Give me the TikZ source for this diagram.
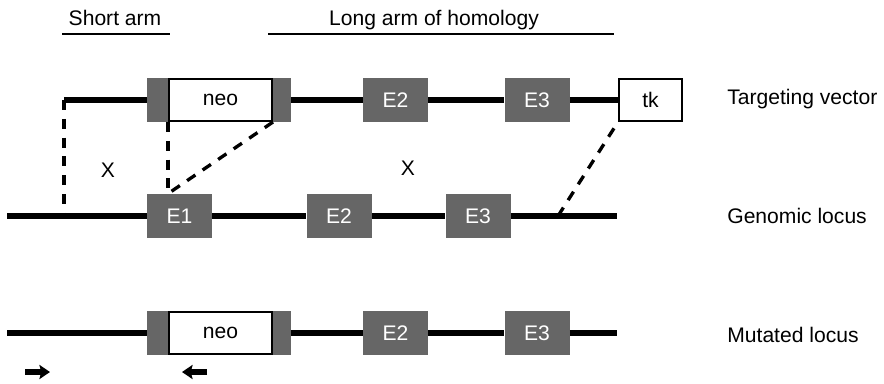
\documentclass[tikz,border=0pt]{standalone}
\usepackage{fontspec}
\setmainfont{Liberation Sans}
\usetikzlibrary{arrows.meta}
\definecolor{exongrey}{RGB}{102,102,102}
\begin{document}
\begin{tikzpicture}[x=0.02cm,y=-0.02cm,font=\fontsize{12}{14}\selectfont,
    dna/.style={line width=3.8pt},
    exon/.style={fill=exongrey,text=white,minimum width=1.3cm,minimum height=0.88cm,inner sep=0pt},
    flank/.style={fill=exongrey,minimum width=2.88cm,minimum height=0.88cm,inner sep=0pt},
    marker/.style={draw,line width=1.2pt,fill=white,minimum width=2.1cm-1.2pt,minimum height=0.88cm-1.2pt,inner sep=0pt},
    label/.style={anchor=base west,inner sep=0pt},
    link/.style={line width=1.9pt,dash pattern=on 5.7pt off 5pt},
    primer/.style={line width=3pt,-{Stealth[length=6pt,width=8pt,inset=1pt]}}]
    \useasboundingbox (0,0) rectangle (884,383);
    % arms of homology
    \node[anchor=base] (short) at (115,25) {Short arm};
    \node[anchor=base] (long) at (434,25) {Long arm of homology};
    \draw[line width=0.6pt] (62,34) -- (170,34);
    \draw[line width=0.6pt] (268,34) -- (614,34);
    % targeting vector
    \coordinate (vstart) at (64,100);
    \node[flank] (flankv) at (219,100) {};
    \node[marker] (neov) at (220.5,100) {neo};
    \node[exon] (e2v) at (395.5,100) {E2};
    \node[exon] (e3v) at (537,100) {E3};
    \node[marker,minimum width=1.3cm-1.2pt] (tk) at (650.5,100) {tk};
    \draw[dna] (vstart) -- (flankv.west) (flankv.east) -- (e2v.west)
        (e2v.east) -- (e3v.west) (e3v.east) -- (tk.west);
    \node[label] (lvector) at (727,104) {Targeting vector};
    % genomic locus
    \coordinate (gstart) at (7,216);
    \coordinate (gend) at (617,216);
    \coordinate (gcross) at (558,216);
    \node[exon] (e1g) at (179.5,216) {E1};
    \node[exon] (e2g) at (339,216) {E2};
    \node[exon] (e3g) at (478,216) {E3};
    \draw[dna] (gstart) -- (e1g.west) (e1g.east) -- (e2g.west)
        (e2g.east) -- (e3g.west) (e3g.east) -- (gend);
    \node[label] (lgenomic) at (727,223) {Genomic locus};
    % crossovers
    \coordinate (e1top) at (neov.south west |- e1g.north);
    \draw[link] (vstart) -- (vstart |- gstart);
    \draw[link] (neov.south west) -- (e1top);
    \draw[link] (neov.south east) -- (e1top);
    \draw[link] (gcross) -- (tk.south west);
    \node (x1) at (108,170) {X};
    \node (x2) at (408,168) {X};
    % mutated locus
    \coordinate (mstart) at (7,333);
    \coordinate (mend) at (617,333);
    \node[flank] (flankm) at (219,333) {};
    \node[marker] (neom) at (220.5,333) {neo};
    \node[exon] (e2m) at (395.5,333) {E2};
    \node[exon] (e3m) at (537,333) {E3};
    \draw[dna] (mstart) -- (flankm.west) (flankm.east) -- (e2m.west)
        (e2m.east) -- (e3m.west) (e3m.east) -- (mend);
    \node[label] (lmutated) at (727,342) {Mutated locus};
    % primers
    \coordinate (p1a) at (25,372);
    \coordinate (p1b) at (50,372);
    \coordinate (p2a) at (207,372);
    \coordinate (p2b) at (182,372);
    \draw[primer] (p1a) -- (p1b);
    \draw[primer] (p2a) -- (p2b);
\end{tikzpicture}
\end{document}
